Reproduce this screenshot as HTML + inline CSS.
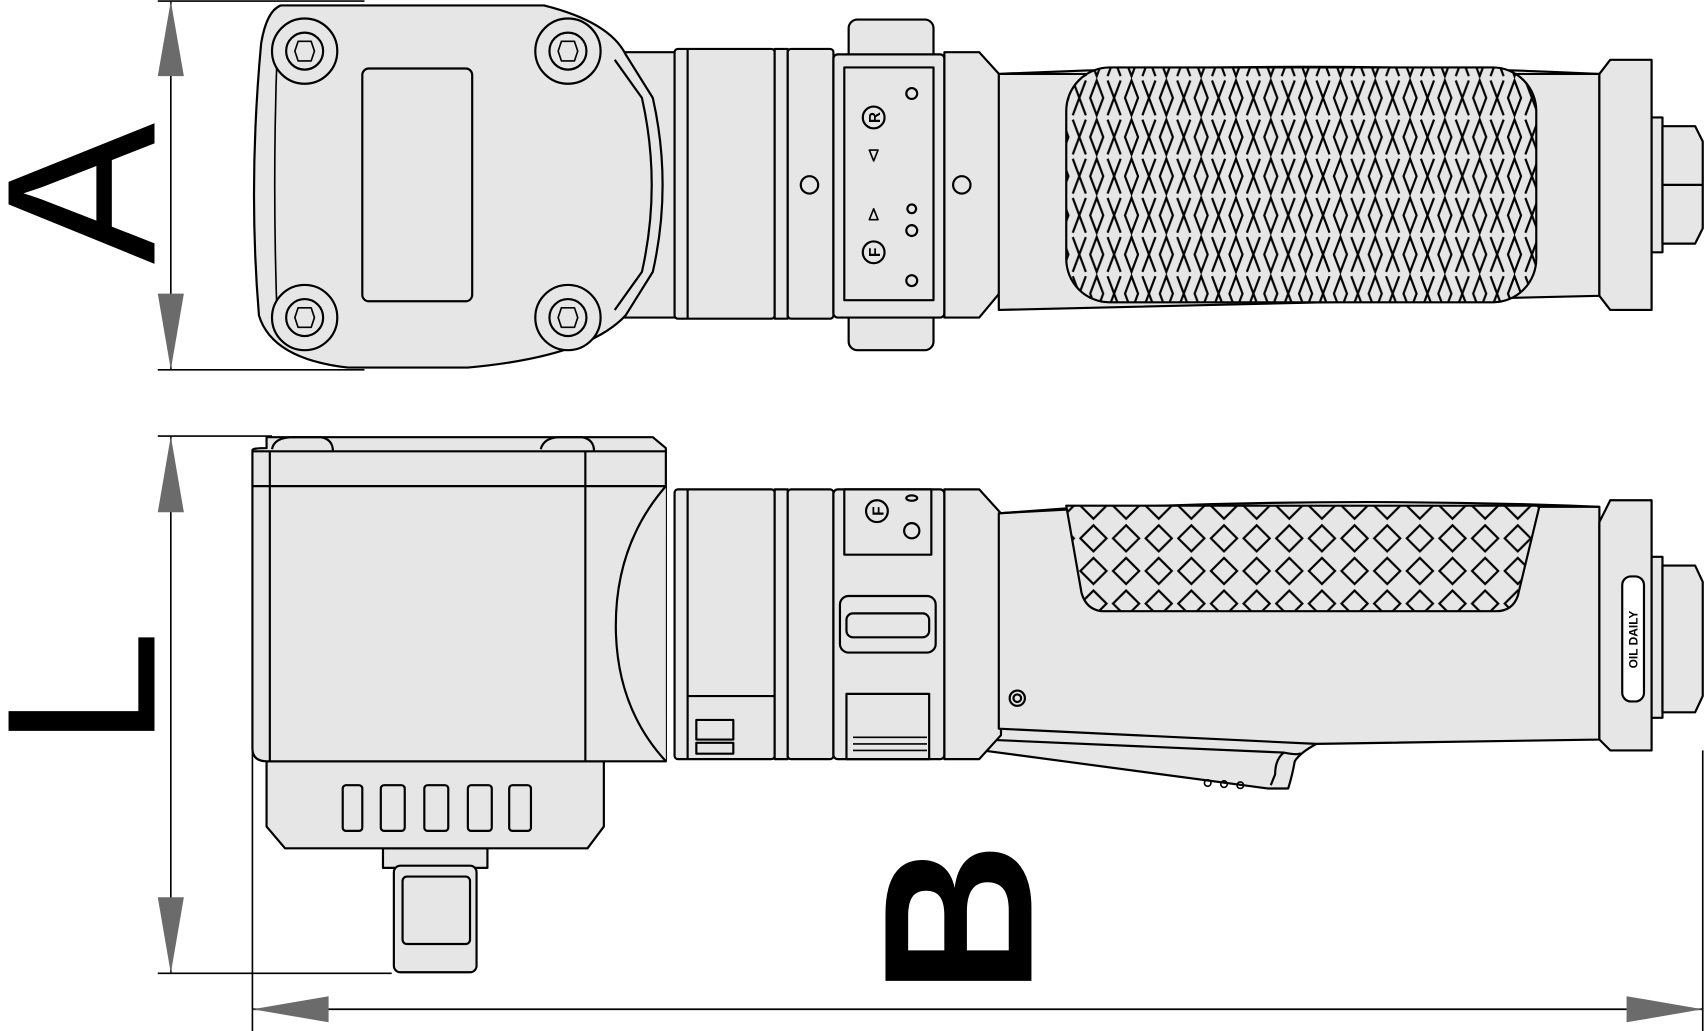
<!DOCTYPE html>
<html><head><meta charset="utf-8"><style>
html,body{margin:0;padding:0;background:#fff;width:1706px;height:1031px;overflow:hidden}
svg{display:block}
</style></head><body>
<svg width="1706" height="1031" viewBox="0 0 1568 948" preserveAspectRatio="none" xmlns="http://www.w3.org/2000/svg">
<defs>
<pattern id="kn" width="30" height="30" patternUnits="userSpaceOnUse">
<rect width="30" height="30" fill="#e6e6e6"/>
<path d="M15 3 L27 15 L15 27 L3 15Z" fill="none" stroke="#000" stroke-width="2"/>
</pattern>
<pattern id="kn2" width="32" height="36" patternUnits="userSpaceOnUse">
<rect width="32" height="36" fill="#e6e6e6"/>
<path d="M16 2 L22 18 L16 34 L10 18Z M0 18 L6 2 M0 18 L6 34 M32 18 L26 2 M32 18 L26 34" fill="none" stroke="#000" stroke-width="2"/>
</pattern>
</defs>
<g stroke="#000" stroke-width="2" fill="#e6e6e6" stroke-linejoin="round">
<line x1="145" y1="1" x2="335" y2="1" stroke-width="1.5"/>
<line x1="145" y1="340" x2="335" y2="340" stroke-width="1.5"/>
<line x1="157" y1="1" x2="157" y2="340" stroke-width="1.5"/>
<polygon points="157,1 145,70 169,70" fill="#6b6b6b" stroke="none"/>
<polygon points="157,340 145,270 169,270" fill="#6b6b6b" stroke="none"/>
<path d="M555 48 L622 48 L622 292 L555 292 Z"/>
<path d="M258 5 L500 5 Q560 20 575 50 L600 90 Q618 170 600 250 L575 290 Q540 328 430 338 L320 338 Q250 330 238 290 Q228 170 240 40 Q245 10 258 5Z"/>
<path d="M565 55 L590 90 Q608 170 590 250 L565 285" fill="none"/>
<path d="M255 40 Q250 170 255 300" fill="none" stroke-width="1.5"/>
<rect x="333" y="63" width="101" height="214" rx="6"/>
<g>
<circle cx="280" cy="47" r="30"/><circle cx="280" cy="47" r="17"/>
<circle cx="522" cy="47" r="30"/><circle cx="522" cy="47" r="17"/>
<circle cx="280" cy="292" r="30"/><circle cx="280" cy="292" r="17"/>
<circle cx="522" cy="292" r="30"/><circle cx="522" cy="292" r="17"/>
</g>
<g fill="none" stroke-width="1.5">
<path d="M274 38 L286 38 L289 47 L286 56 L274 56 L271 47Z"/>
<path d="M516 38 L528 38 L531 47 L528 56 L516 56 L513 47Z"/>
<path d="M274 283 L286 283 L289 292 L286 301 L274 301 L271 292Z"/>
<path d="M516 283 L528 283 L531 292 L528 301 L516 301 L513 292Z"/>
</g>
<rect x="620" y="45" width="92" height="248" rx="3"/>
<line x1="632" y1="45" x2="632" y2="293"/>
<rect x="712" y="45" width="12" height="248"/>
<rect x="724" y="45" width="42" height="248" rx="3"/>
<circle cx="744" cy="170" r="8"/>
<rect x="780" y="18" width="78" height="304" rx="8"/>
<rect x="766" y="50" width="102" height="242" rx="4"/>
<rect x="776" y="62" width="82" height="214"/>
<circle cx="803" cy="108" r="10" fill="none"/>
<text x="803" y="114" font-family="Liberation Sans,sans-serif" font-size="14" font-weight="bold" text-anchor="middle" fill="#000" stroke="none" transform="rotate(-90 803 108)">R</text>
<circle cx="803" cy="232" r="10" fill="none"/>
<text x="803" y="238" font-family="Liberation Sans,sans-serif" font-size="14" font-weight="bold" text-anchor="middle" fill="#000" stroke="none" transform="rotate(-90 803 232)">F</text>
<polygon points="803,148 799,138 807,138" fill="none" stroke-width="1.5"/>
<polygon points="803,192 799,202 807,202" fill="none" stroke-width="1.5"/>
<circle cx="838" cy="86" r="5"/><circle cx="838" cy="192" r="4"/><circle cx="838" cy="212" r="5"/><circle cx="838" cy="258" r="5"/>
<path d="M868 48 L900 48 L920 70 L920 268 L900 292 L868 292Z"/>
<circle cx="884" cy="170" r="8"/>
<path d="M918 68 L1470 68 L1470 272 L918 285 Z"/>
<path d="M918 68 Q1200 55 1470 68" fill="none"/>
<rect x="980" y="62" width="432" height="216" rx="40" fill="url(#kn2)"/>
<path d="M1470 68 L1480 55 L1518 55 L1518 285 L1480 285 L1470 272Z"/>
<rect x="1518" y="108" width="10" height="124"/>
<path d="M1528 116 L1558 116 L1565 130 L1565 210 L1558 224 L1528 224Z"/>
<line x1="1528" y1="170" x2="1565" y2="170"/>
<line x1="145" y1="401" x2="250" y2="401" stroke-width="1.5"/>
<line x1="145" y1="895" x2="360" y2="895" stroke-width="1.5"/>
<line x1="157" y1="401" x2="157" y2="895" stroke-width="1.5"/>
<polygon points="157,401 145,471 169,471" fill="#6b6b6b" stroke="none"/>
<polygon points="157,895 145,825 169,825" fill="#6b6b6b" stroke="none"/>
<line x1="232" y1="690" x2="232" y2="948" stroke-width="1.5"/>
<line x1="1565" y1="690" x2="1565" y2="948" stroke-width="1.5"/>
<line x1="232" y1="928" x2="1565" y2="928" stroke-width="1.5"/>
<polygon points="232,928 302,916 302,940" fill="#6b6b6b" stroke="none"/>
<polygon points="1565,928 1495,916 1495,940" fill="#6b6b6b" stroke="none"/>
<rect x="352" y="780" width="96" height="18"/>
<rect x="362" y="796" width="76" height="98" rx="6"/>
<rect x="370" y="806" width="62" height="62" rx="4"/>
<path d="M245 700 L555 700 L555 760 L540 780 L262 780 L245 760Z"/>
<g><rect x="315" y="722" width="18" height="42" rx="3"/><rect x="350" y="722" width="22" height="42" rx="3"/><rect x="390" y="722" width="22" height="42" rx="3"/><rect x="430" y="722" width="22" height="42" rx="3"/><rect x="468" y="722" width="20" height="42" rx="3"/></g>
<path d="M245 402 L600 402 L612 412 L612 700 L245 700 Q232 700 232 688 L232 414 Q232 412 245 412Z"/>
<path d="M250 413 Q252 402 270 402 L295 402 Q306 404 306 415" fill="none"/>
<path d="M497 413 Q500 402 515 402 L535 402 Q546 404 546 415" fill="none"/>
<line x1="232" y1="415" x2="612" y2="415"/>
<line x1="248" y1="415" x2="248" y2="700"/>
<line x1="538" y1="415" x2="538" y2="700"/>
<line x1="232" y1="447" x2="612" y2="447"/>
<path d="M612 447 Q566 500 566 575 Q566 650 612 700" fill="#e6e6e6"/>
<rect x="620" y="450" width="92" height="248" rx="3"/>
<line x1="632" y1="450" x2="632" y2="698"/>
<path d="M632 640 L712 640"/>
<rect x="640" y="662" width="34" height="18" fill="none"/>
<rect x="640" y="683" width="34" height="10" fill="none"/>
<rect x="712" y="450" width="12" height="248"/>
<rect x="724" y="450" width="42" height="248" rx="3"/>
<rect x="766" y="450" width="102" height="248" rx="4"/>
<rect x="776" y="450" width="80" height="60"/>
<circle cx="806" cy="470" r="10" fill="none"/>
<text x="806" y="476" font-family="Liberation Sans,sans-serif" font-size="14" font-weight="bold" text-anchor="middle" fill="#000" stroke="none" transform="rotate(-90 806 470)">F</text>
<circle cx="838" cy="488" r="7"/><ellipse cx="838" cy="458" rx="5" ry="2.5"/>
<rect x="772" y="548" width="88" height="52" rx="8"/>
<rect x="778" y="564" width="76" height="22" rx="6"/>
<rect x="778" y="638" width="76" height="60"/>
<g stroke-width="1.5"><line x1="784" y1="678" x2="852" y2="678"/><line x1="784" y1="684" x2="852" y2="684"/><line x1="784" y1="690" x2="852" y2="690"/></g>
<path d="M918 672 L905 680 L903 690 L1165 725 L1184 725 Q1188 712 1190 700 Q1195 692 1210 684 L1210 680 L918 668 Z"/>
<path d="M905 680 L1180 692 Q1195 695 1195 692" fill="none"/>
<path d="M1180 692 Q1172 698 1172 712 L1168 722" fill="none"/>
<path d="M868 450 L900 450 L920 472 L920 676 L900 698 L868 698Z"/>
<path d="M918 472 L1000 466 L1470 466 L1470 680 L1210 684 L918 670 Z"/>
<path d="M918 472 Q1200 455 1470 466" fill="none"/>
<path d="M980 465 L1415 465 L1395 548 Q1390 562 1375 562 L1012 562 Q998 560 994 545 Z" fill="url(#kn)"/>
<circle cx="935" cy="642" r="7"/><circle cx="935" cy="642" r="3.5" fill="none"/>
<g fill="none" stroke-width="1.5"><circle cx="1110" cy="720" r="3"/><circle cx="1125" cy="721" r="3"/><circle cx="1140" cy="722" r="3"/></g>
<path d="M1470 480 L1480 460 L1518 460 L1518 690 L1480 690 L1470 680Z"/>
<rect x="1491" y="530" width="20" height="115" rx="8" fill="#fff"/>
<text x="1501" y="588" font-family="Liberation Sans,sans-serif" font-size="11" font-weight="bold" text-anchor="middle" fill="#000" stroke="none" transform="rotate(-90 1501 588)" dy="4">OIL DAILY</text>
<rect x="1518" y="512" width="10" height="148"/>
<path d="M1528 520 L1558 520 L1565 535 L1565 640 L1558 655 L1528 655Z"/>
</g>
<g font-family="Liberation Sans,sans-serif" fill="#000">
<text x="0" y="0" font-size="195" transform="translate(142,243) rotate(-90)">A</text>
<text x="0" y="0" font-size="195" transform="translate(142,688) rotate(-90)">L</text>
<text x="0" y="0" font-size="195" font-weight="bold" transform="translate(948,915) rotate(-90)">B</text>
</g>
</svg>
</body></html>
